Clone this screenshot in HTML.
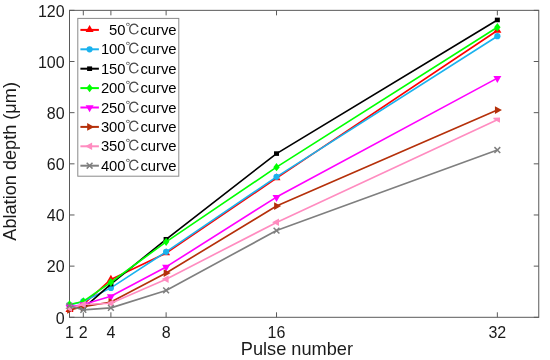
<!DOCTYPE html>
<html><head><meta charset="utf-8"><title>Ablation depth vs pulse number</title>
<style>
html,body{margin:0;padding:0;background:#fff;}
body{width:550px;height:360px;overflow:hidden;}
svg{display:block;}
text{font-family:"Liberation Sans","Noto Serif CJK SC",sans-serif;fill:#1a1a1a;}
.tk{font-size:16px;}
.lb{font-size:18px;}
.lg{font-size:14.8px;fill:#000;}
.cj{font-family:"IPAGothic","Noto Sans CJK JP",sans-serif;fill:#4a4a4a;}
</style></head><body>
<svg width="550" height="360" viewBox="0 0 550 360">
<rect width="550" height="360" fill="#fff"/>

<path d="M69.50 317.30v-5M69.50 10.35v5M83.30 317.30v-5M83.30 10.35v5M110.90 317.30v-5M110.90 10.35v5M166.11 317.30v-5M166.11 10.35v5M276.52 317.30v-5M276.52 10.35v5M497.35 317.30v-5M497.35 10.35v5M69.50 317.30h5M538.75 317.30h-5M69.50 266.14h5M538.75 266.14h-5M69.50 214.98h5M538.75 214.98h-5M69.50 163.83h5M538.75 163.83h-5M69.50 112.67h5M538.75 112.67h-5M69.50 61.51h5M538.75 61.51h-5M69.50 10.35h5M538.75 10.35h-5" stroke="#5a5a5a" stroke-width="1" fill="none"/>
<rect x="69.50" y="10.35" width="469.25" height="306.95" fill="none" stroke="#5a5a5a" stroke-width="1"/>
<polyline points="69.50,309.88 83.30,304.51 110.90,279.44 166.11,253.10 276.52,178.15 497.35,30.56" fill="none" stroke="#ff0000" stroke-width="1.65" stroke-linejoin="round"/>
<polygon points="69.50,305.08 65.50,312.08 73.50,312.08" fill="#ff0000"/>
<polygon points="83.30,299.71 79.30,306.71 87.30,306.71" fill="#ff0000"/>
<polygon points="110.90,274.64 106.90,281.64 114.90,281.64" fill="#ff0000"/>
<polygon points="166.11,248.30 162.11,255.30 170.11,255.30" fill="#ff0000"/>
<polygon points="276.52,173.35 272.52,180.35 280.52,180.35" fill="#ff0000"/>
<polygon points="497.35,25.76 493.35,32.76 501.35,32.76" fill="#ff0000"/>
<polyline points="69.50,305.02 83.30,301.44 110.90,287.88 166.11,251.82 276.52,176.87 497.35,36.18" fill="none" stroke="#1ab2ee" stroke-width="1.65" stroke-linejoin="round"/>
<circle cx="69.50" cy="305.02" r="3.1" fill="#1ab2ee"/>
<circle cx="83.30" cy="301.44" r="3.1" fill="#1ab2ee"/>
<circle cx="110.90" cy="287.88" r="3.1" fill="#1ab2ee"/>
<circle cx="166.11" cy="251.82" r="3.1" fill="#1ab2ee"/>
<circle cx="276.52" cy="176.87" r="3.1" fill="#1ab2ee"/>
<circle cx="497.35" cy="36.18" r="3.1" fill="#1ab2ee"/>
<polyline points="69.50,305.79 83.30,308.35 110.90,284.05 166.11,239.28 276.52,153.59 497.35,19.94" fill="none" stroke="#000000" stroke-width="1.65" stroke-linejoin="round"/>
<rect x="67.00" y="303.49" width="5" height="4.6" fill="#000000"/>
<rect x="80.80" y="306.05" width="5" height="4.6" fill="#000000"/>
<rect x="108.40" y="281.75" width="5" height="4.6" fill="#000000"/>
<rect x="163.61" y="236.98" width="5" height="4.6" fill="#000000"/>
<rect x="274.02" y="151.29" width="5" height="4.6" fill="#000000"/>
<rect x="494.85" y="17.64" width="5" height="4.6" fill="#000000"/>
<polyline points="69.50,304.51 83.30,301.44 110.90,282.26 166.11,241.84 276.52,167.15 497.35,27.23" fill="none" stroke="#00ff00" stroke-width="1.65" stroke-linejoin="round"/>
<polygon points="69.50,300.31 72.70,304.51 69.50,308.71 66.30,304.51" fill="#00ff00"/>
<polygon points="83.30,297.24 86.50,301.44 83.30,305.64 80.10,301.44" fill="#00ff00"/>
<polygon points="110.90,278.06 114.10,282.26 110.90,286.46 107.70,282.26" fill="#00ff00"/>
<polygon points="166.11,237.64 169.31,241.84 166.11,246.04 162.91,241.84" fill="#00ff00"/>
<polygon points="276.52,162.95 279.72,167.15 276.52,171.35 273.32,167.15" fill="#00ff00"/>
<polygon points="497.35,23.03 500.55,27.23 497.35,31.43 494.15,27.23" fill="#00ff00"/>
<polyline points="69.50,307.07 83.30,304.51 110.90,296.33 166.11,266.91 276.52,197.08 497.35,78.13" fill="none" stroke="#ff00ff" stroke-width="1.65" stroke-linejoin="round"/>
<polygon points="69.50,311.87 65.50,304.87 73.50,304.87" fill="#ff00ff"/>
<polygon points="83.30,309.31 79.30,302.31 87.30,302.31" fill="#ff00ff"/>
<polygon points="110.90,301.13 106.90,294.13 114.90,294.13" fill="#ff00ff"/>
<polygon points="166.11,271.71 162.11,264.71 170.11,264.71" fill="#ff00ff"/>
<polygon points="276.52,201.88 272.52,194.88 280.52,194.88" fill="#ff00ff"/>
<polygon points="497.35,82.93 493.35,75.93 501.35,75.93" fill="#ff00ff"/>
<polyline points="69.50,309.88 83.30,306.81 110.90,301.95 166.11,273.05 276.52,206.03 497.35,110.11" fill="none" stroke="#b5300a" stroke-width="1.65" stroke-linejoin="round"/>
<polygon points="74.10,309.88 67.10,305.98 67.10,313.78" fill="#b5300a"/>
<polygon points="87.90,306.81 80.90,302.91 80.90,310.71" fill="#b5300a"/>
<polygon points="115.50,301.95 108.50,298.05 108.50,305.85" fill="#b5300a"/>
<polygon points="170.71,273.05 163.71,269.15 163.71,276.95" fill="#b5300a"/>
<polygon points="281.12,206.03 274.12,202.13 274.12,209.93" fill="#b5300a"/>
<polygon points="501.95,110.11 494.95,106.21 494.95,114.01" fill="#b5300a"/>
<polyline points="69.50,308.35 83.30,304.51 110.90,303.23 166.11,279.19 276.52,222.40 497.35,119.83" fill="none" stroke="#ff8cc0" stroke-width="1.65" stroke-linejoin="round"/>
<polygon points="65.10,308.25 72.00,304.55 72.00,312.05" fill="#ff8cc0"/>
<polygon points="78.90,304.41 85.80,300.71 85.80,308.21" fill="#ff8cc0"/>
<polygon points="106.50,303.13 113.40,299.43 113.40,306.93" fill="#ff8cc0"/>
<polygon points="161.71,279.09 168.61,275.39 168.61,282.89" fill="#ff8cc0"/>
<polygon points="272.12,222.30 279.02,218.60 279.02,226.10" fill="#ff8cc0"/>
<polygon points="493.4,117.8 500,117.4 500,122.7 497.2,121.2 493.4,118.9" fill="#ff8cc0"/>
<polyline points="69.50,305.79 83.30,309.88 110.90,307.84 166.11,290.44 276.52,230.59 497.35,150.01" fill="none" stroke="#7f7f7f" stroke-width="1.65" stroke-linejoin="round"/>
<path d="M66.60 302.89L72.40 308.69M66.60 308.69L72.40 302.89" stroke="#7f7f7f" stroke-width="1.5" fill="none"/>
<path d="M80.40 306.98L86.20 312.78M80.40 312.78L86.20 306.98" stroke="#7f7f7f" stroke-width="1.5" fill="none"/>
<path d="M108.00 304.94L113.80 310.74M108.00 310.74L113.80 304.94" stroke="#7f7f7f" stroke-width="1.5" fill="none"/>
<path d="M163.21 287.54L169.01 293.34M163.21 293.34L169.01 287.54" stroke="#7f7f7f" stroke-width="1.5" fill="none"/>
<path d="M273.62 227.69L279.42 233.49M273.62 233.49L279.42 227.69" stroke="#7f7f7f" stroke-width="1.5" fill="none"/>
<path d="M494.45 147.11L500.25 152.91M494.45 152.91L500.25 147.11" stroke="#7f7f7f" stroke-width="1.5" fill="none"/>
<text class="tk" x="69.50" y="338.3" text-anchor="middle">1</text>
<text class="tk" x="83.30" y="338.3" text-anchor="middle">2</text>
<text class="tk" x="110.90" y="338.3" text-anchor="middle">4</text>
<text class="tk" x="166.11" y="338.3" text-anchor="middle">8</text>
<text class="tk" x="276.52" y="338.3" text-anchor="middle">16</text>
<text class="tk" x="497.35" y="338.3" text-anchor="middle">32</text>
<text class="tk" x="64.6" y="323.60" text-anchor="end">0</text>
<text class="tk" x="64.6" y="272.44" text-anchor="end">20</text>
<text class="tk" x="64.6" y="221.28" text-anchor="end">40</text>
<text class="tk" x="64.6" y="170.13" text-anchor="end">60</text>
<text class="tk" x="64.6" y="118.97" text-anchor="end">80</text>
<text class="tk" x="64.6" y="67.81" text-anchor="end">100</text>
<text class="tk" x="64.6" y="16.65" text-anchor="end">120</text>
<text class="lb" x="240.8" y="355" style="font-size:18.2px">Pulse number</text>
<text class="lb" transform="translate(15.6,240.7) rotate(-90)" style="font-size:18.15px">Ablation depth (μm)</text>
<rect x="77.8" y="18.4" width="101" height="157.8" fill="#fff" stroke="#8a8a8a" stroke-width="1"/>
<path d="M80.4 29.90H98.9" stroke="#ff0000" stroke-width="2"/>
<polygon points="89.60,25.10 85.60,32.10 93.60,32.10" fill="#ff0000"/>
<text class="lg" x="109.10" y="34.90">50<tspan class="cj">℃</tspan>curve</text>
<path d="M80.4 49.30H98.9" stroke="#1ab2ee" stroke-width="2"/>
<circle cx="89.60" cy="49.30" r="3.1" fill="#1ab2ee"/>
<text class="lg" x="100.90" y="54.30">100<tspan class="cj">℃</tspan>curve</text>
<path d="M80.4 68.70H98.9" stroke="#000000" stroke-width="2"/>
<rect x="87.10" y="66.40" width="5" height="4.6" fill="#000000"/>
<text class="lg" x="100.90" y="73.70">150<tspan class="cj">℃</tspan>curve</text>
<path d="M80.4 88.10H98.9" stroke="#00ff00" stroke-width="2"/>
<polygon points="89.60,83.90 92.80,88.10 89.60,92.30 86.40,88.10" fill="#00ff00"/>
<text class="lg" x="100.90" y="93.10">200<tspan class="cj">℃</tspan>curve</text>
<path d="M80.4 107.50H98.9" stroke="#ff00ff" stroke-width="2"/>
<polygon points="89.60,112.30 85.60,105.30 93.60,105.30" fill="#ff00ff"/>
<text class="lg" x="100.90" y="112.50">250<tspan class="cj">℃</tspan>curve</text>
<path d="M80.4 126.90H98.9" stroke="#b5300a" stroke-width="2"/>
<polygon points="94.20,126.90 87.20,123.00 87.20,130.80" fill="#b5300a"/>
<text class="lg" x="100.90" y="131.90">300<tspan class="cj">℃</tspan>curve</text>
<path d="M80.4 146.30H98.9" stroke="#ff8cc0" stroke-width="2"/>
<polygon points="85.20,146.20 92.10,142.50 92.10,150.00" fill="#ff8cc0"/>
<text class="lg" x="100.90" y="151.30">350<tspan class="cj">℃</tspan>curve</text>
<path d="M80.4 165.70H98.9" stroke="#7f7f7f" stroke-width="2"/>
<path d="M86.70 162.80L92.50 168.60M86.70 168.60L92.50 162.80" stroke="#7f7f7f" stroke-width="1.5" fill="none"/>
<text class="lg" x="100.90" y="170.70">400<tspan class="cj">℃</tspan>curve</text>
</svg></body></html>
